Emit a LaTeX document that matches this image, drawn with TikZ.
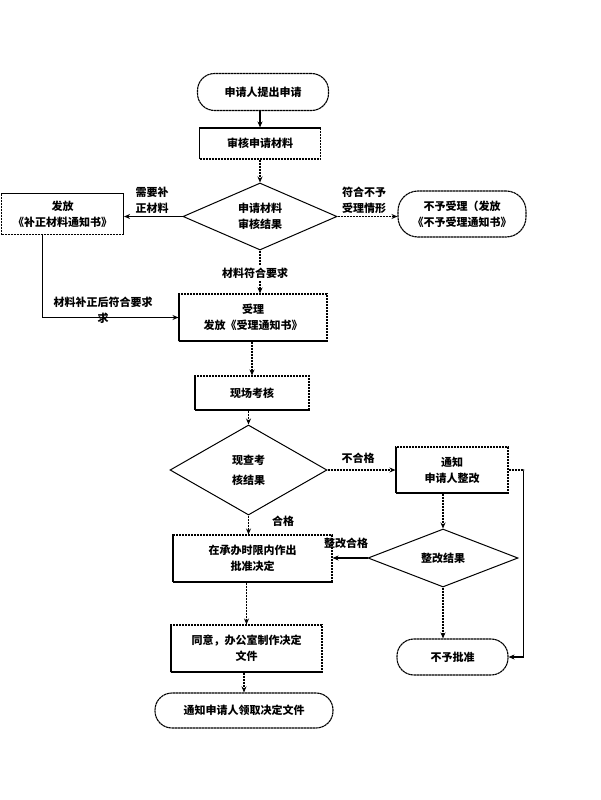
\documentclass[tikz,border=0pt]{standalone}
\usepackage{fontspec}
\newfontfamily\cjk{Noto Sans CJK SC}
\usetikzlibrary{shapes.geometric,arrows.meta}
\tikzset{
  base/.style={font=\cjk\bfseries\fontsize{11}{16}\selectfont, align=center, inner sep=0pt},
  boxline/.style={draw, line width=1.1pt, dash pattern=on 2.5pt off 0.5pt},
  procbox/.style={base, boxline, rectangle},
  termbox/.style={base, boxline, rectangle, rounded corners=17pt},
  decision/.style={base, draw, line width=1pt, diamond},
  lbl/.style={base},
  conn/.style={line width=1.1pt, dash pattern=on 2.5pt off 0.5pt, -{Stealth[length=6pt,width=5pt]}}
}
\begin{document}
\begin{tikzpicture}[x=1pt,y=-1pt]
\useasboundingbox (0,0) rectangle (600,800);
% nodes
\node[termbox, minimum width=131pt, minimum height=37pt] (n1) at (263,92) {申请人提出申请};
\node[procbox, minimum width=121pt, minimum height=31pt] (n2) at (260,143.5) {审核申请材料};
\node[decision, minimum width=154pt, minimum height=67pt] (d1) at (260,216.5) {};
\node[lbl] (d1t) at (d1) {申请材料\\审核结果};
\node[procbox, minimum width=122pt, minimum height=41pt] (nL) at (62.5,214) {发放\\《补正材料通知书》};
\node[termbox, minimum width=128pt, minimum height=46pt, rounded corners=20pt] (nR) at (462,214) {不予受理（发放\\《不予受理通知书》};
\node[procbox, minimum width=148pt, minimum height=47pt] (n3) at (253,317.5) {受理\\发放《受理通知书》};
\node[procbox, minimum width=114pt, minimum height=34pt] (n4) at (252,393) {现场考核};
\node[decision, minimum width=157pt, minimum height=90pt] (d2) at (248.5,470) {};
\node[lbl, font=\cjk\bfseries\fontsize{11}{20}\selectfont] (d2t) at (d2) {现查考\\核结果};
\node[procbox, minimum width=112pt, minimum height=46pt] (n5) at (452,470) {通知\\申请人整改};
\node[procbox, minimum width=159pt, minimum height=47pt] (n6) at (252.5,558.5) {在承办时限内作出\\批准决定};
\node[decision, minimum width=150pt, minimum height=58pt] (d3) at (443,558) {};
\node[lbl] (d3t) at (d3) {整改结果};
\node[procbox, minimum width=151pt, minimum height=47pt] (n7) at (246.5,648.5) {同意，办公室制作决定\\文件};
\node[termbox, minimum width=178pt, minimum height=35pt] (n8) at (244,710.5) {通知申请人领取决定文件};
\node[termbox, minimum width=111pt, minimum height=36pt] (n9) at (452.5,657) {不予批准};
% connectors
\draw[conn] (n2.north |- n1.south) -- (n2.north);
\draw[conn] (n2.south) -- (d1.north);
\draw[conn] (d1.west) -- (d1.west -| nL.east);
\draw[conn] (d1.east) -- (d1.east -| nR.west);
\draw[conn] (d1.south) -- (d1.south |- n3.north);
\draw[conn] ([xshift=-20pt]nL.south) |- (n3.west);
\draw[conn] (n4.north |- n3.south) -- (n4.north);
\draw[conn] (d2.north |- n4.south) -- (d2.north);
\draw[conn] (d2.east) -- (n5.west);
\draw[conn] (d2.south) -- (d2.south |- n6.north);
\draw[conn] (d3.north |- n5.south) -- (d3.north);
\draw[conn] (d3.west) -- (d3.west -| n6.east);
\draw[conn] (n5.east) -- ++(15,0) |- (n9.east);
\draw[conn] (d3.south) -- (d3.south |- n9.north);
\draw[conn] (n7.north |- n6.south) -- (n7.north);
\draw[conn] (n8.north |- n7.south) -- (n8.north);
% labels
\node[lbl] (l1) at (152,200) {需要补\\正材料};
\node[lbl] (l2) at (364,200) {符合不予\\受理情形};
\node[lbl, fill=white, inner sep=3pt] (l3) at (255,273) {材料符合要求};
\node[lbl] (l4) at (103,310) {材料补正后符合要求\\求};
\node[lbl] (l5) at (358,458) {不合格};
\node[lbl] (l6) at (283,521) {合格};
\node[lbl] (l7) at (346,543) {整改合格};
\end{tikzpicture}
\end{document}
